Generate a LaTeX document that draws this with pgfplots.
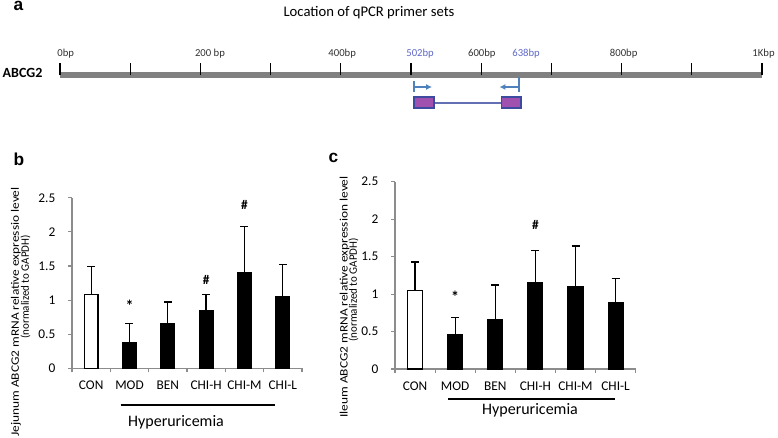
\documentclass[border=0pt]{standalone}
\usepackage{pgfplots}
\pgfplotsset{compat=1.18}
\usetikzlibrary{arrows.meta}
\usepackage{fontspec}
\setmainfont{Carlito}
\newfontfamily\arialfont{Liberation Sans}

\definecolor{axgray}{RGB}{140,140,140}
\definecolor{rulergray}{RGB}{128,128,128}
\definecolor{primerblue}{RGB}{79,129,189}
\definecolor{labelblue}{RGB}{95,105,200}
\definecolor{boxfill}{RGB}{160,80,175}
\definecolor{boxedge}{RGB}{60,75,160}

\pgfplotsset{
  barpanel/.style={
    scale only axis, clip=false,
    axis x line*=bottom, axis y line*=left,
    axis line style={axgray, line width=0.9pt},
    xmin=0.5, xmax=6.5, ymin=0, ymax=2.5,
    ytick={0,0.5,...,2.5},
    xtick={0.5,1.5,...,6.5}, xticklabels={},
    extra x ticks={1,...,6},
    extra x tick labels={CON,MOD,BEN,CHI-H,CHI-M,CHI-L},
    extra x tick style={major tick length=0pt},
    x tick label style={font=\fontsize{10}{11}\selectfont, yshift=-6pt},
    y tick label style={font=\fontsize{10}{12}\selectfont, xshift=-6pt},
    /pgf/number format/assume math mode=true,
    tick align=outside, major tick length=3pt,
    tick style={axgray, line width=0.8pt},
  },
  bar/.style={ybar, bar shift=0pt, draw=black, line width=1.1pt,
    error bars/y dir=plus, error bars/y explicit,
    error bars/error bar style={line width=1pt, black},
    error bars/error mark options={rotate=90, line width=1pt, mark size=3pt, black}},
}
\tikzset{
  sig/.style={font=\bfseries\fontsize{10}{11}\selectfont},
  star/.style={font=\bfseries\fontsize{12}{12}\selectfont, yshift=-2pt},
  ylab/.style={rotate=90, xscale=1.18, font=\fontsize{8.5}{9}\selectfont},
  ylabb/.style={rotate=90, xscale=0.97, font=\fontsize{8.5}{9}\selectfont},
}

\begin{document}
\begin{tikzpicture}[x=0.75pt, y=-0.75pt]
\path[use as bounding box] (0,0) rectangle (778,437);

% panel a
\node[font=\arialfont\bfseries\fontsize{13}{13}\selectfont, anchor=base west] at (9,10) {a};
\node[font=\fontsize{11}{13}\selectfont] at (369,13) {Location of qPCR primer sets};
\node[font=\bfseries\fontsize{10.5}{12}\selectfont, anchor=west] at (-2,73) {ABCG2};

\begin{axis}[at={(60*0.75pt,-115*0.75pt)}, anchor=south west, scale only axis,
  width=526.5pt, height=56.25pt, xmin=0, xmax=1000, ymin=40, ymax=115,
  y dir=reverse, hide axis, clip=false, unbounded coords=jump]
  \addplot[rulergray, line width=4.5pt] coordinates {(0,75) (1000,75)};
  \addplot[black, line width=0.9pt] coordinates {
    (0,63) (0,75) (0,nan) (100,63) (100,75) (100,nan)
    (200,63) (200,75) (200,nan) (300,63) (300,75) (300,nan)
    (400,63) (400,75) (400,nan) (500,63) (500,75) (500,nan)
    (600,63) (600,75) (600,nan) (700,63) (700,75) (700,nan)
    (800,63) (800,75) (800,nan) (900,63) (900,75) (900,nan)
    (1000,63) (1000,75)};
  % primers
  \addplot[primerblue, line width=1.1pt] coordinates {(504,81) (504,92)};
  \addplot[primerblue, line width=1.1pt, -{Latex[length=4.5pt,width=4.5pt]}] coordinates {(504,87) (530,87)};
  \addplot[primerblue, line width=1.1pt] coordinates {(654,77) (654,92)};
  \addplot[primerblue, line width=1.1pt, -{Latex[length=4.5pt,width=4.5pt]}] coordinates {(654,87) (626,87)};
  \addplot[boxedge!80, line width=1pt] coordinates {(533,103) (629,103)};
  \addplot[fill=boxfill, draw=boxedge, line width=1.4pt] coordinates {(504,97) (533,97) (533,108) (504,108)} -- cycle;
  \addplot[fill=boxfill, draw=boxedge, line width=1.4pt] coordinates {(629,97) (657,97) (657,108) (629,108)} -- cycle;
  \begin{scope}[every node/.style={font=\fontsize{8}{9}\selectfont, anchor=base west, inner sep=0pt}]
    \node[black!80] at (axis cs:-4,56) {0bp};
    \node[black!80] at (axis cs:192,56) {200 bp};
    \node[black!80] at (axis cs:382,56) {400bp};
    \node[labelblue] at (axis cs:493,56) {502bp};
    \node[black!80] at (axis cs:581,56) {600bp};
    \node[labelblue] at (axis cs:644,56) {638bp};
    \node[black!80] at (axis cs:783,56) {800bp};
    \node[black!80] at (axis cs:986,56) {1Kbp};
  \end{scope}
\end{axis}

% panel b
\node[font=\arialfont\bfseries\fontsize{13}{13}\selectfont, anchor=base west] at (9,165) {b};
\node[ylab] at (16,312) {Jejunum ABCG2 mRNA relative expressio level};
\node[ylabb] at (25.5,287) {(normalized to GAPDH)};
\begin{axis}[barpanel, at={(72*0.75pt,-368.3*0.75pt)}, anchor=south west, width=172.5pt, height=127.9pt]
  \addplot[bar, bar width=10.25pt, fill=white] coordinates {(1,1.08) +- (0,0.41)};
  \addplot[bar, bar width=10.25pt, fill=black] coordinates {
    (2,0.37) +- (0,0.29) (3,0.66) +- (0,0.31) (4,0.85) +- (0,0.23)
    (5,1.40) +- (0,0.68) (6,1.05) +- (0,0.47)};
  \node[star] at (axis cs:2,0.96) {*};
  \node[sig] at (axis cs:4,1.30) {\#};
  \node[sig] at (axis cs:5,2.39) {\#};
\end{axis}
\draw[line width=2pt] (120.7,405) -- (275,405);
\node[font=\fontsize{12}{14}\selectfont] at (176,422.7) {Hyperuricemia};

% panel c
\node[font=\arialfont\bfseries\fontsize{13}{13}\selectfont, anchor=base west] at (324,162) {c};
\node[ylab] at (344.5,297) {Ileum ABCG2 mRNA relative expression level};
\node[ylabb] at (353.5,290) {(normalized to GAPDH)};
\begin{axis}[barpanel, at={(395*0.75pt,-369*0.75pt)}, anchor=south west, width=180.5pt, height=140.5pt]
  \addplot[bar, bar width=11pt, fill=white] coordinates {(1,1.05) +- (0,0.38)};
  \addplot[bar, bar width=11pt, fill=black] coordinates {
    (2,0.46) +- (0,0.23) (3,0.66) +- (0,0.46) (4,1.15) +- (0,0.43)
    (5,1.10) +- (0,0.54) (6,0.89) +- (0,0.32)};
  \node[star] at (axis cs:2,1.00) {*};
  \node[sig] at (axis cs:4,1.92) {\#};
\end{axis}
\draw[line width=1.5pt] (448,399.3) -- (615,399.3);
\node[font=\fontsize{12}{14}\selectfont] at (530,410) {Hyperuricemia};
\end{tikzpicture}
\end{document}
